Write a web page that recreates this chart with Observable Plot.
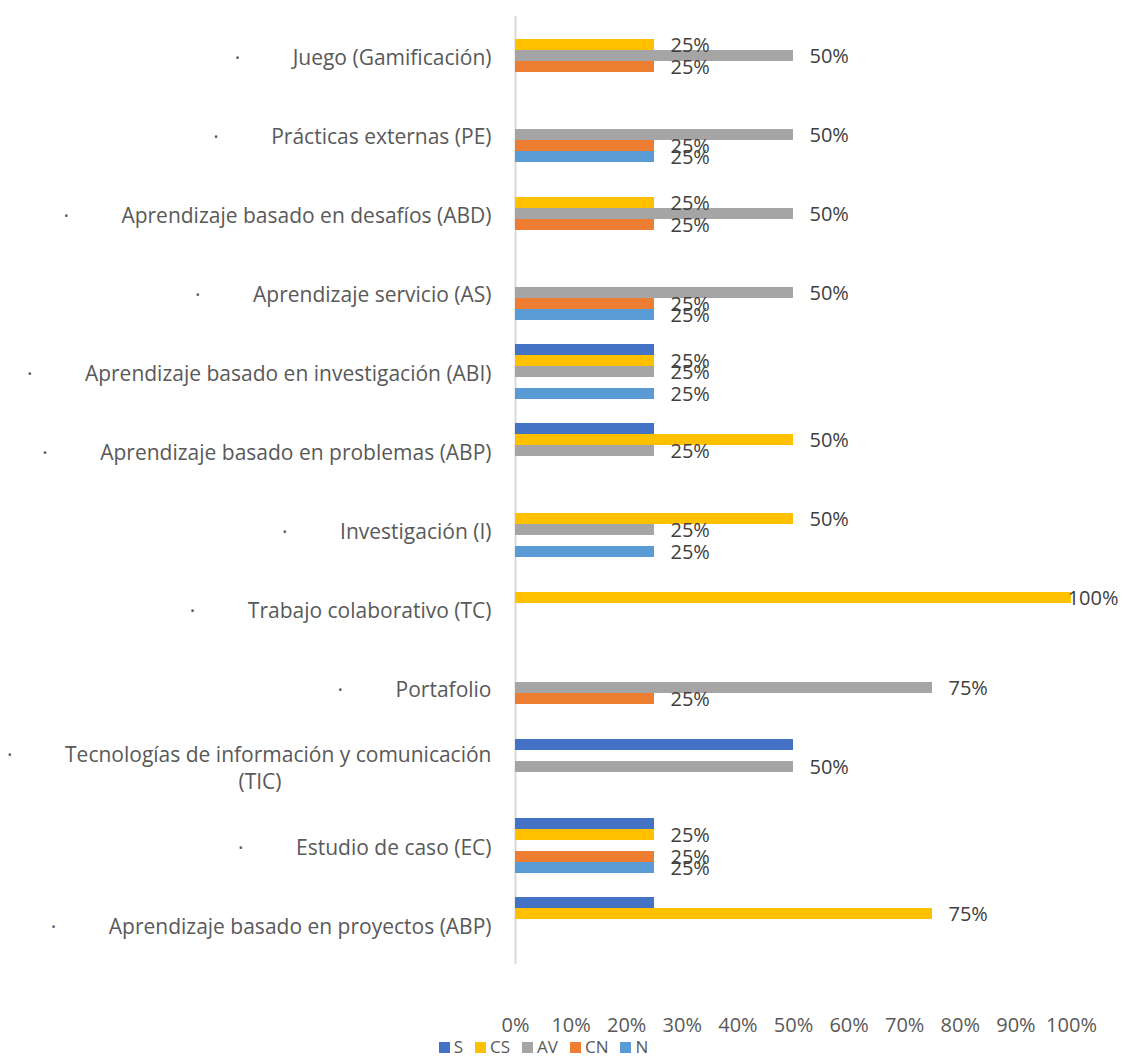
<!DOCTYPE html>
<html>
<head>
<meta charset="utf-8">
<script src="https://cdn.jsdelivr.net/npm/d3@7"></script>
<script src="https://cdn.jsdelivr.net/npm/@observablehq/plot@0.6"></script>
<style>
  body { margin: 0; background: #fff; font-family: "Open Sans", sans-serif; }
  svg { display: block; }
  #legend { display: flex; justify-content: center; align-items: center; width: 1123px; height: 18px; line-height: 18px;
            font-size: 17px; color: #595959; padding-left: 0; box-sizing: border-box; transform: translateX(-18px); }
  #legend .item { display: flex; align-items: center; margin: 0 6px; }
  #legend .sw { width: 11px; height: 11px; margin-right: 4px; }
</style>
</head>
<body>
<div id="chart"></div>
<div id="legend"></div>
<script>
const categories = [
  "Juego (Gamificación)",
  "Prácticas externas (PE)",
  "Aprendizaje basado en desafíos (ABD)",
  "Aprendizaje servicio (AS)",
  "Aprendizaje basado en investigación (ABI)",
  "Aprendizaje basado en problemas (ABP)",
  "Investigación (I)",
  "Trabajo colaborativo (TC)",
  "Portafolio",
  "Tecnologías de información y comunicación (TIC)",
  "Estudio de caso (EC)",
  "Aprendizaje basado en proyectos (ABP)"
];
const series = ["S", "CS", "AV", "CN", "N"];
const colors = ["#4472C4", "#FFC000", "#A5A5A5", "#ED7D31", "#5B9BD5"];

const valuesS  = [0, 0, 0, 0, 25, 25, 0, 0, 0, 50, 25, 25];
const valuesCS = [25, 0, 25, 0, 25, 50, 50, 100, 0, 0, 25, 75];
const valuesAV = [50, 50, 50, 50, 25, 25, 25, 0, 75, 50, 0, 0];
const valuesCN = [25, 25, 25, 25, 0, 0, 0, 0, 25, 0, 25, 0];
const valuesN  = [0, 25, 0, 25, 25, 0, 25, 0, 0, 0, 25, 0];
const labelledSeries = ["CS", "AV", "CN", "N"];
const xTicks = [0, 10, 20, 30, 40, 50, 60, 70, 80, 90, 100];

const valuesBySeries = {S: valuesS, CS: valuesCS, AV: valuesAV, CN: valuesCN, N: valuesN};
const rows = [];
categories.forEach((c, i) => {
  series.forEach(s => rows.push({category: c, series: s, value: valuesBySeries[s][i]}));
});
const barRows = rows.filter(d => d.value > 0);
const labelRows = barRows.filter(d => labelledSeries.includes(d.series));

const dot = "·\u2003\u2003\u2002";
function catLabel(c) {
  if (c === "Tecnologías de información y comunicación (TIC)")
    return dot + "Tecnologías de información y comunicación\n(TIC)" + "\u2003".repeat(10);
  return dot + c;
}

const chart = Plot.plot({
  width: 1123,
  height: 1038,
  marginLeft: 515,
  marginRight: 52,
  marginTop: 15,
  marginBottom: 73,
  style: {fontFamily: "'Open Sans', sans-serif", fontSize: "20px", color: "#595959", background: "#fff"},
  x: {domain: [0, 100]},
  y: {domain: series, paddingInner: 0, paddingOuter: 0.8, axis: null},
  fy: {domain: categories, padding: 0},
  color: {domain: series, range: colors},
  marks: [
    Plot.ruleX([0], {stroke: "#d9d9d9", strokeWidth: 2}),
    Plot.barX(barRows, {x: "value", y: "series", fy: "category", fill: "series"}),
    Plot.text(labelRows.filter(d => d.value < 100), {
      x: "value", y: "series", fy: "category", text: d => d.value + "%",
      textAnchor: "start", dx: 16, dy: 1, fill: "#404040", fontSize: 20
    }),
    Plot.text(labelRows.filter(d => d.value >= 100), {
      x: "value", y: "series", fy: "category", text: d => d.value + "%",
      textAnchor: "end", dx: 47, dy: 1, fill: "#404040", fontSize: 20
    }),
    Plot.axisX({ticks: xTicks, tickFormat: d => d + "%", tickSize: 0, tickPadding: 53, label: null,
      fill: "#595959", fontSize: 20}),
    Plot.axisFy({anchor: "left", tickSize: 0, tickPadding: 24, tickFormat: catLabel, label: null, lineHeight: 1.3,
      fill: "#595959", fontSize: 21})
  ]
});
document.getElementById("chart").appendChild(chart);

const legend = document.getElementById("legend");
series.forEach((s, i) => {
  const item = document.createElement("div");
  item.className = "item";
  const sw = document.createElement("span");
  sw.className = "sw";
  sw.style.background = colors[i];
  const t = document.createElement("span");
  t.textContent = s;
  item.appendChild(sw);
  item.appendChild(t);
  legend.appendChild(item);
});
</script>
</body>
</html>
